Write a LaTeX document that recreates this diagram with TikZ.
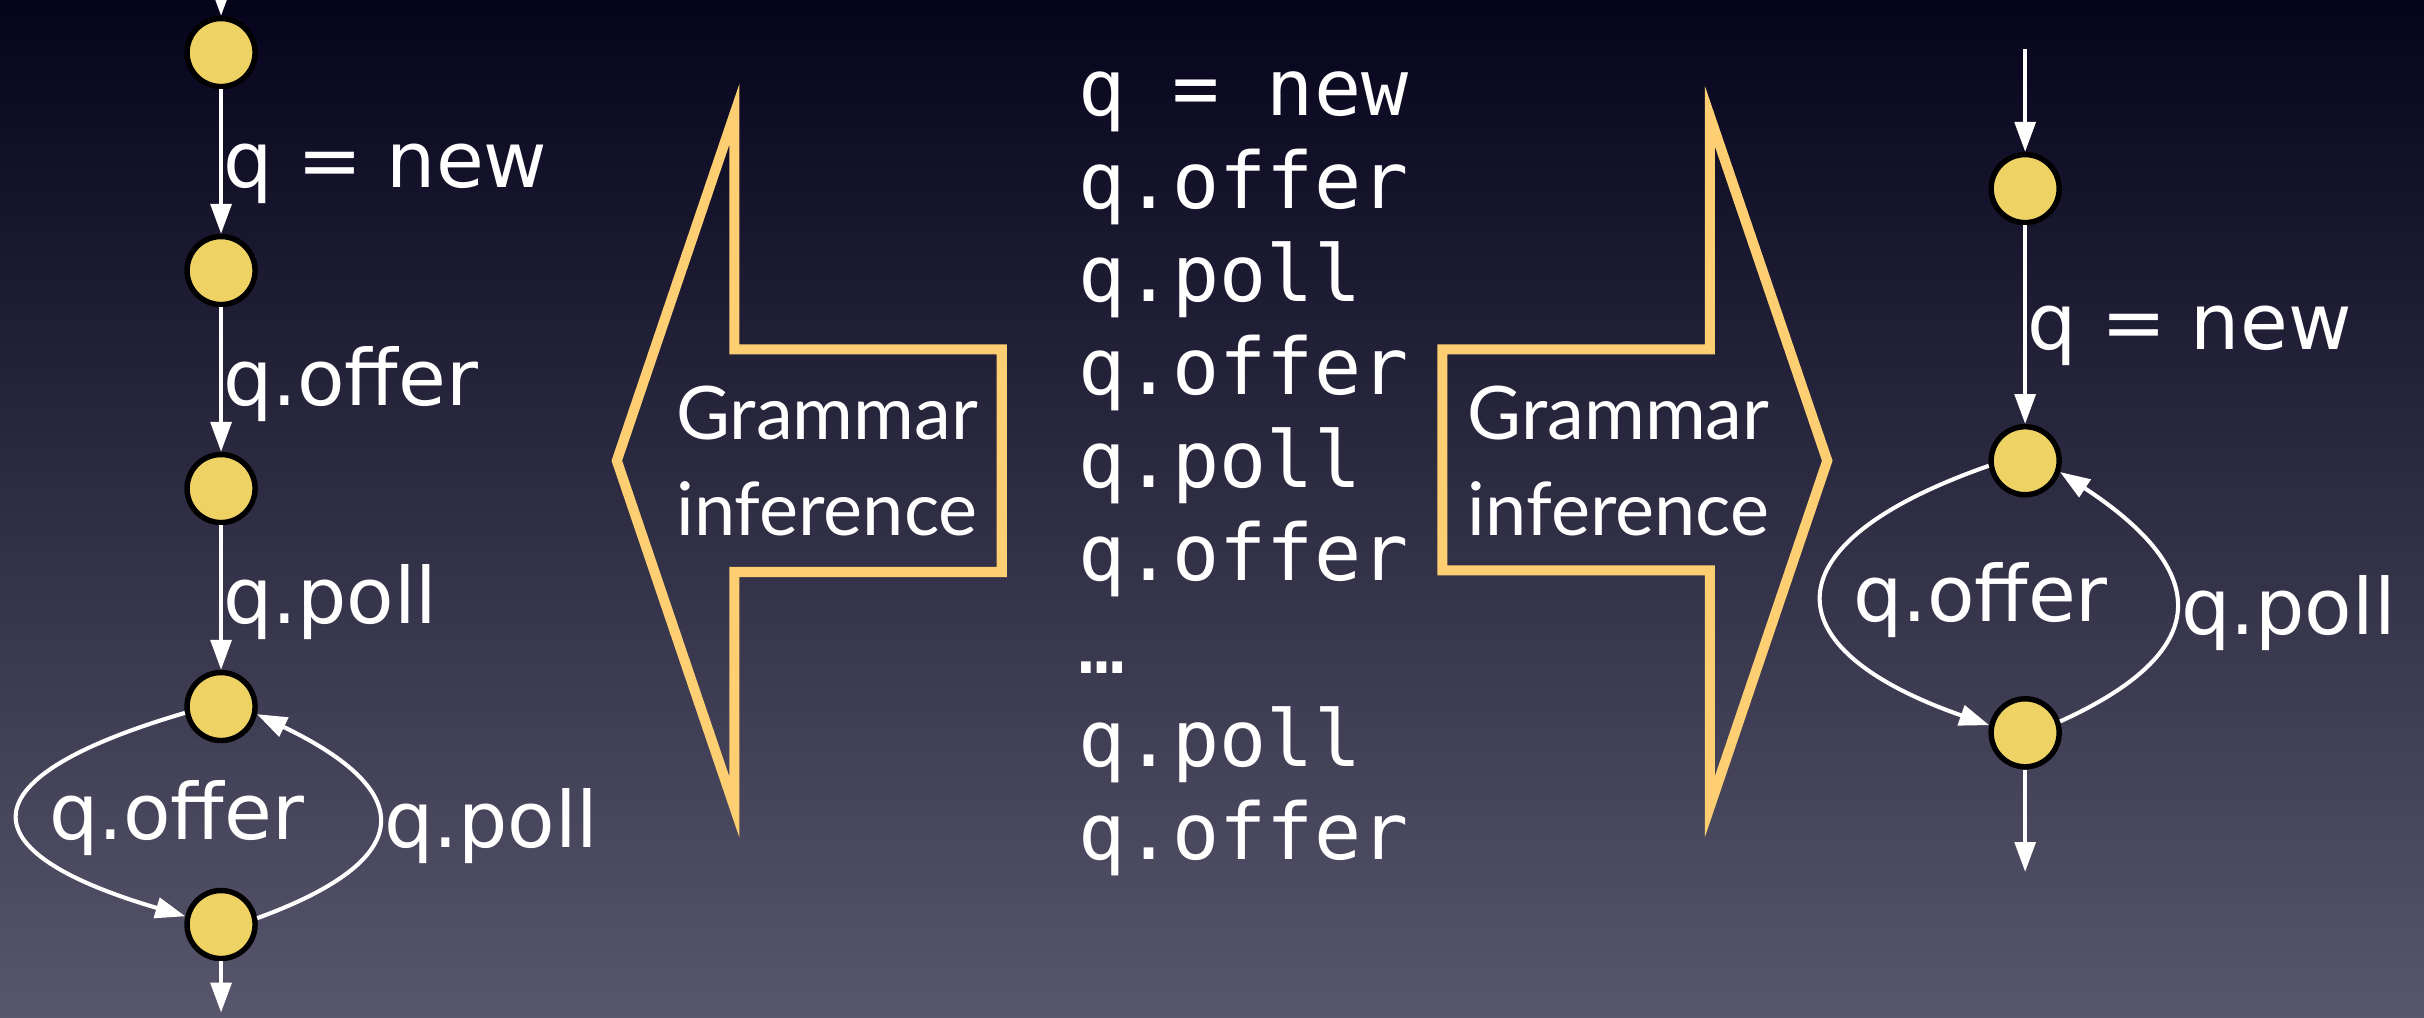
\documentclass[tikz,border=0pt]{standalone}
\usepackage{fontspec}
\usepackage{xcolor}
\usepackage{tikz}
\usetikzlibrary{positioning, arrows.meta}
\definecolor{BgTop}{HTML}{05041C}
\definecolor{BgMid}{HTML}{2C2B44}
\definecolor{BgBottom}{HTML}{57566C}
\definecolor{StateYellow}{HTML}{EFD264}
\definecolor{ArrowGold}{HTML}{FDCF72}
\newfontfamily\labelfont{DejaVu Sans}
\newfontfamily\tracefont{DejaVu Sans Mono}
\newfontfamily\arrowfont{Lato}

\begin{document}
\begin{tikzpicture}[x=0.1mm, y=-0.1mm,
    statenode/.style={circle, draw=black, line width=1pt, fill=StateYellow, minimum size=4.4mm, inner sep=0pt},
    trans/.style={-{Triangle[length=5.5pt, width=3.8pt]}, white, line width=0.75pt},
    elabel/.style={anchor=base west, inner sep=0pt, text=white, font=\labelfont\fontsize{14.3pt}{17pt}\selectfont},
    traceline/.style={anchor=base west, inner sep=0pt, text=white, font=\tracefont\fontsize{14.4pt}{17pt}\selectfont},
    inferarrow/.style={draw=ArrowGold, line width=1.85pt, miter limit=10},
    infertext/.style={align=center, inner sep=0pt, text=white, font=\arrowfont\fontsize{13.6pt}{17.6pt}\selectfont}
  ]
  % background
  \fill[top color=BgTop, middle color=BgMid, bottom color=BgBottom] (0,0) rectangle (1568,658);
  \useasboundingbox (0,0) rectangle (1568,658);

  % left automaton (unrolled)
  \node[statenode] (l1) at (143,34) {};
  \node[statenode, below=9.35mm of l1] (l2) {};
  \node[statenode, below=9.35mm of l2] (l3) {};
  \node[statenode, below=9.35mm of l3] (l4) {};
  \node[statenode, below=9.35mm of l4] (l5) {};
  \coordinate (l1in) at (143,0);
  \coordinate (l5out) at (143,655);

  \draw[trans] (l1in) -- (l1);
  \draw[trans] (l1) -- node[elabel, yshift=-1.7mm] {q = new} (l2);
  \draw[trans] (l2) -- node[elabel, yshift=-1.7mm] {q.offer} (l3);
  \draw[trans] (l3) -- node[elabel, yshift=-1.7mm] {q.poll} (l4);
  \draw[trans] (l4.190) .. controls +(-143,42) and +(-143,-42) .. node[elabel, xshift=1.8mm, yshift=-1.6mm] {q.offer} (l5.167);
  \draw[trans] (l5.10) .. controls +(104,-38) and +(104,50) .. node[elabel, xshift=0.3mm, yshift=-1.6mm] {q.poll} (l4.-12);
  \draw[trans] (l5) -- (l5out);

  % inference arrows
  \draw[inferarrow] (399,298) -- (475,74) -- (475,226) -- (648,226) -- (648,370) -- (475,370) -- (475,522) -- cycle;
  \draw[inferarrow] (933,226) -- (1106,226) -- (1106,75) -- (1182,298) -- (1106,522) -- (1106,369) -- (933,369) -- cycle;
  \node[infertext] (inferleft) at (535,298) {Grammar\\inference};
  \node[infertext] (inferright) at (1047,298) {Grammar\\inference};

  % trace
  \foreach \t [count=\i] in {q = new, q.offer, q.poll, q.offer, q.poll, q.offer, …, q.poll, q.offer}
    \node[traceline] (t\i) at (697,{75+60.1*(\i-1)}) {\t};

  % right automaton (folded)
  \node[statenode] (r1) at (1310,122) {};
  \node[statenode, below=12.85mm of r1] (r2) {};
  \node[statenode, below=12.85mm of r2] (r3) {};
  \coordinate (r1in) at (1310,32);
  \coordinate (r3out) at (1310,564);

  \draw[trans] (r1in) -- (r1);
  \draw[trans] (r1) -- node[elabel, yshift=-1.6mm] {q = new} (r2);
  \draw[trans] (r2.188) .. controls +(-143,50) and +(-143,-50) .. node[elabel, xshift=1.8mm, yshift=-1.7mm] {q.offer} (r3.168);
  \draw[trans] (r3.18) .. controls +(99,-45) and +(99,65) .. node[elabel, xshift=0.3mm, yshift=-1.7mm] {q.poll} (r2.-18);
  \draw[trans] (r3) -- (r3out);
\end{tikzpicture}
\end{document}
